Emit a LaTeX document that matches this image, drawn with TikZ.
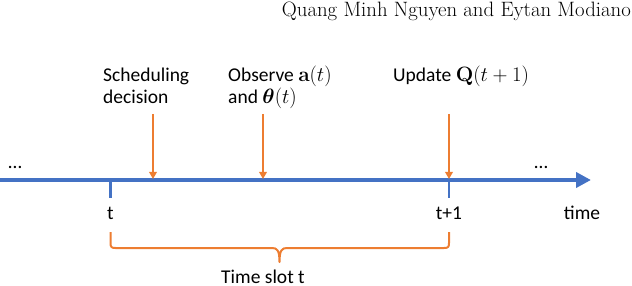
\documentclass[tikz,border=0pt]{standalone}
\usepackage{amsmath,bm}
\usepackage[no-math]{fontspec}
\newfontfamily\carlito{Carlito}
\usetikzlibrary{arrows.meta}
\definecolor{offblue}{HTML}{4472C4}
\definecolor{offorange}{HTML}{ED7D31}
\tikzset{
  lbl/.style={inner sep=0pt, font=\carlito\fontsize{19.5}{21.5}\selectfont, text=black},
  axisline/.style={draw=offblue, line width=3.8pt, -{Triangle[length=15pt,width=15pt]}},
  tickline/.style={draw=offblue, line width=2.4pt},
  evarrow/.style={draw=offorange, line width=1.8pt, -{Triangle[length=7pt,width=7.5pt]}},
  bracepath/.style={draw=offorange, line width=2pt, line join=round},
}
\begin{document}
\begin{tikzpicture}[x=1pt,y=-1pt]
\useasboundingbox (0,0) rectangle (632,286);
% header
\node[inner sep=0pt, anchor=base east, font=\rmfamily\fontsize{20.8}{23}\selectfont] (hdr) at (631,17) {Quang Minh Nguyen and Eytan Modiano};
% axis
\coordinate (a0) at (0,180);
\coordinate (a1) at (591,180);
\draw[axisline] (a0) -- (a1);
\coordinate (t0) at (110.5,180);
\coordinate (t1) at (449,180);
\coordinate (t0b) at (110.5,198);
\coordinate (t1b) at (449,198);
\draw[tickline] (t0) -- (t0b);
\draw[tickline] (t1) -- (t1b);
% dots
\node[lbl, anchor=base] (dl) at (15,168) {…};
\node[lbl, anchor=base] (dr) at (541,168) {…};
% tick labels
\node[lbl, anchor=base] (lt) at (110.5,219.5) {t};
\node[lbl, anchor=base] (lt1) at (449,219.5) {t+1};
\node[lbl, anchor=base] (ltime) at (582,219.5) {time};
% event labels
\node[lbl, anchor=base west] (s1) at (103,82) {Scheduling};
\node[lbl, anchor=base west] (s2) at (103,103.5) {decision};
\node[lbl, anchor=base west] (o1) at (228,82) {Observe $\mathbf{a}(t)$};
\node[lbl, anchor=base west] (o2) at (228,103.5) {and $\boldsymbol{\theta}(t)$};
\node[lbl, anchor=base west] (u1) at (393,82) {Update $\mathbf{Q}(t+1)$};
% event arrows
\coordinate (es) at (153,114);
\coordinate (eo) at (263,114);
\coordinate (eu) at (449,114);
\coordinate (es2) at (153,179);
\coordinate (eo2) at (263,179);
\coordinate (eu2) at (449,179);
\draw[evarrow] (es) -- (es2);
\draw[evarrow] (eo) -- (eo2);
\draw[evarrow] (eu) -- (eu2);
% brace
\coordinate (bl) at (110.5,232);
\coordinate (br) at (449,232);
\coordinate (btip) at (279.5,262);
\draw[bracepath] (bl) -- (110.5,243) .. controls (110.5,247) and (111.5,248) .. (115.5,248)
  -- (272,248) .. controls (277,248) and (279.5,250) .. (btip)
  .. controls (279.5,250) and (282,248) .. (287,248)
  -- (444,248) .. controls (448,248) and (449,247) .. (449,243) -- (br);
\node[lbl, anchor=base] (slot) at (263,283) {Time slot t};
\end{tikzpicture}
\end{document}
